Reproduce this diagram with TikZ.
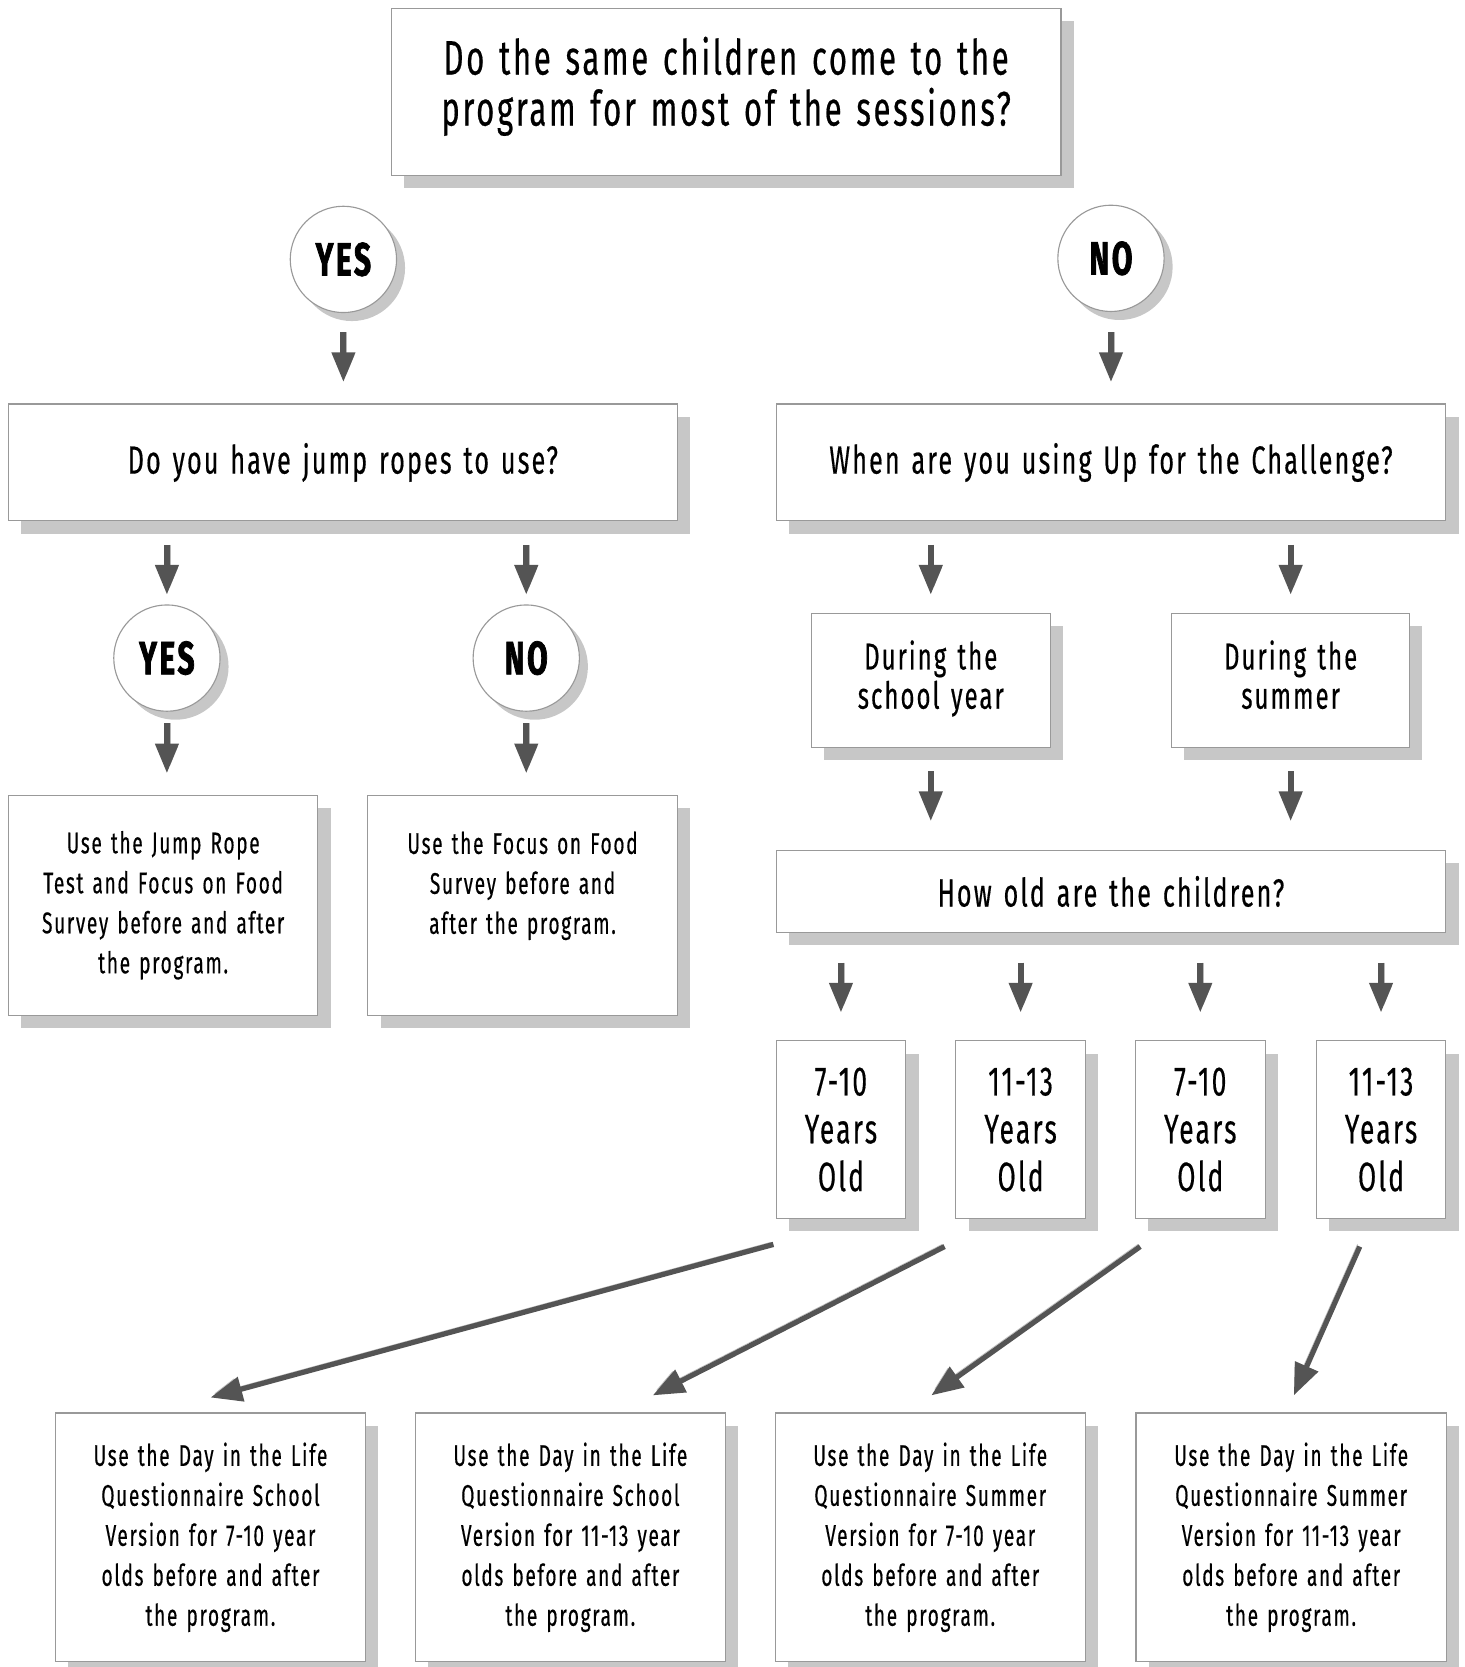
\documentclass[tikz,border=0pt]{standalone}
\usepackage{fontspec}
\setmainfont{Fira Sans}[FakeStretch=0.64, LetterSpace=5.5, WordSpace=1.35,
  UprightFeatures={FakeBold=0.4}, BoldFeatures={FakeBold=1.5}]
\usetikzlibrary{arrows.meta,shadows,calc}

\tikzset{
  box/.style={draw=black!40, line width=0.6pt, fill=white, align=center, inner sep=0pt,
    drop shadow={shadow xshift=0.24cm, shadow yshift=-0.24cm, fill=black!22, opacity=1}},
  answer/.style={circle, draw=black!40, line width=0.6pt, fill=white, minimum size=2cm,
    inner sep=0pt, font=\bfseries\fontsize{25}{25}\selectfont,
    drop shadow={shadow xshift=0.16cm, shadow yshift=-0.16cm, fill=black!22, opacity=1}},
  flow/.style={draw=black!67, line width=3.2pt, -{Triangle[width=12pt,length=16pt]},
    preaction={draw=black!28, transform canvas={xshift=1.6pt}}},
  longflow/.style={draw=black!67, line width=2.8pt, -{Triangle[width=13pt,length=17pt]},
    preaction={draw=black!25, transform canvas={xshift=-1.2pt,yshift=1.2pt}}},
}

\begin{document}
\begin{tikzpicture}[x=0.02cm, y=-0.02cm]
\useasboundingbox (0,0) rectangle (1378,1568);

% question boxes
\node[box, minimum width=12.6cm, minimum height=3.14cm, font=\fontsize{26}{27.3}\selectfont]
  (same) at (683,86.5) {Do the same children come to the\\program for most of the sessions?\\[-15.7pt]\mbox{}};
\node[answer] (yes1) at (323,244) {YES};
\node[answer] (no1)  at (1045,243) {NO};
\node[box, minimum width=12.58cm, minimum height=2.2cm, font=\fontsize{21}{24}\selectfont]
  (jump) at (322.5,435) {Do you have jump ropes to use?};
\node[box, minimum width=12.6cm, minimum height=2.2cm, font=\fontsize{21}{24}\selectfont]
  (when) at (1045,435) {When are you using Up for the Challenge?};

% jump rope branch
\node[answer] (yes2) at (157,619) {YES};
\node[answer] (no2)  at (495,619) {NO};
\node[box, minimum width=5.82cm, minimum height=4.14cm, font=\fontsize{16}{21.4}\selectfont]
  (jumpres) at (153.5,851.5) {Use the Jump Rope\\Test and Focus on Food\\Survey before and after\\the program.};
\node[box, minimum width=5.82cm, minimum height=4.14cm, font=\fontsize{16}{21.4}\selectfont]
  (foodres) at (491.5,851.5) {Use the Focus on Food\\Survey before and\\after the program.\\[0.1cm]\mbox{}};

% season branch
\node[box, minimum width=4.5cm, minimum height=2.52cm, font=\fontsize{20}{21}\selectfont]
  (school) at (875.5,640) {During the\\school year\strut};
\node[box, minimum width=4.48cm, minimum height=2.52cm, font=\fontsize{20}{21}\selectfont]
  (summer) at (1214,640) {During the\\summer\strut};
\node[box, minimum width=12.6cm, minimum height=1.54cm, font=\fontsize{21}{24}\selectfont]
  (howold) at (1045,838.5) {How old are the children?};

% ages
\node[box, minimum width=2.44cm, minimum height=3.34cm, font=\fontsize{22}{25.6}\selectfont]
  (a1) at (791,1062.5) {7-10\\Years\\Old};
\node[box, minimum width=2.44cm, minimum height=3.34cm, font=\fontsize{22}{25.6}\selectfont]
  (a2) at (960,1062.5) {11-13\\Years\\Old};
\node[box, minimum width=2.44cm, minimum height=3.34cm, font=\fontsize{22}{25.6}\selectfont]
  (a3) at (1129,1062.5) {7-10\\Years\\Old};
\node[box, minimum width=2.44cm, minimum height=3.34cm, font=\fontsize{22}{25.6}\selectfont]
  (a4) at (1299,1062.5) {11-13\\Years\\Old};

% questionnaires
\node[box, minimum width=5.84cm, minimum height=4.68cm, font=\fontsize{16}{21.4}\selectfont]
  (r1) at (198,1446) {Use the Day in the Life\\Questionnaire School\\Version for 7-10 year\\olds before and after\\the program.};
\node[box, minimum width=5.84cm, minimum height=4.68cm, font=\fontsize{16}{21.4}\selectfont]
  (r2) at (536.5,1446) {Use the Day in the Life\\Questionnaire School\\Version for 11-13 year\\olds before and after\\the program.};
\node[box, minimum width=5.84cm, minimum height=4.68cm, font=\fontsize{16}{21.4}\selectfont]
  (r3) at (875,1446) {Use the Day in the Life\\Questionnaire Summer\\Version for 7-10 year\\olds before and after\\the program.};
\node[box, minimum width=5.84cm, minimum height=4.68cm, font=\fontsize{16}{21.4}\selectfont]
  (r4) at (1214.5,1446) {Use the Day in the Life\\Questionnaire Summer\\Version for 11-13 year\\olds before and after\\the program.};

% short arrows
\draw[flow, shorten <=0.36cm, shorten >=0.40cm] (yes1.south) -- (yes1.south |- jump.north);
\draw[flow, shorten <=0.38cm, shorten >=0.40cm] (no1.south) -- (no1.south |- when.north);
\draw[flow, shorten <=0.44cm, shorten >=0.18cm] (jump.south -| yes2) -- (yes2.north);
\draw[flow, shorten <=0.44cm, shorten >=0.18cm] (jump.south -| no2) -- (no2.north);
\draw[flow, shorten <=0.22cm, shorten >=0.40cm] (yes2.south) -- (yes2.south |- jumpres.north);
\draw[flow, shorten <=0.22cm, shorten >=0.40cm] (no2.south) -- (no2.south |- foodres.north);
\draw[flow, shorten <=0.44cm, shorten >=0.34cm] (when.south -| school) -- (school.north);
\draw[flow, shorten <=0.44cm, shorten >=0.34cm] (when.south -| summer) -- (summer.north);
\draw[flow, shorten <=0.44cm, shorten >=0.54cm] (school.south) -- (school.south |- howold.north);
\draw[flow, shorten <=0.44cm, shorten >=0.54cm] (summer.south) -- (summer.south |- howold.north);
\draw[flow, shorten <=0.56cm, shorten >=0.52cm] (howold.south -| a1) -- (a1.north);
\draw[flow, shorten <=0.56cm, shorten >=0.52cm] (howold.south -| a2) -- (a2.north);
\draw[flow, shorten <=0.56cm, shorten >=0.52cm] (howold.south -| a3) -- (a3.north);
\draw[flow, shorten <=0.56cm, shorten >=0.52cm] (howold.south -| a4) -- (a4.north);

% long arrows
\draw[longflow] ($(a1.south west)+(-2,24)$) -- ($(r1.north)+(0,-14)$);
\draw[longflow] ($(a2.south west)+(-10,26)$) -- ($(r2.north)+(77.5,-16)$);
\draw[longflow] ($(a3.south west)+(5,26)$) -- ($(r3.north)+(1,-16)$);
\draw[longflow] ($(a4.south)+(-20,26)$) -- ($(r4.north)+(2.5,-16)$);
\end{tikzpicture}
\end{document}
